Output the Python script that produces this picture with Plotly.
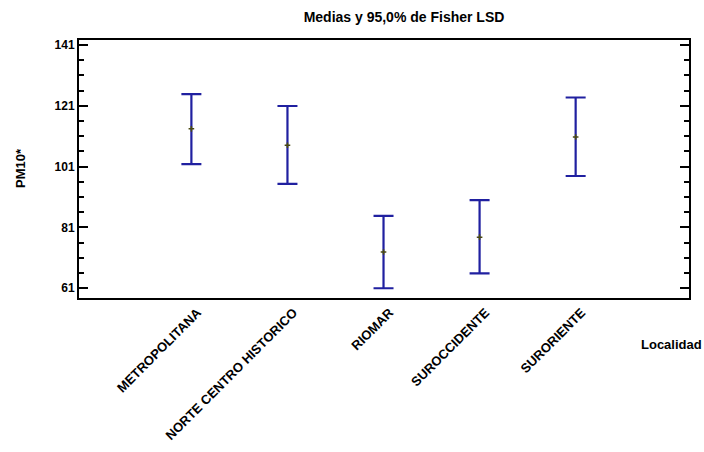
import plotly.graph_objects as go

categories = ["METROPOLITANA", "NORTE CENTRO HISTORICO", "RIOMAR", "SUROCCIDENTE", "SURORIENTE"]
means = [113.4, 108.0, 72.9, 77.8, 110.7]
lower = [101.8, 95.3, 61.0, 65.9, 97.9]
upper = [124.8, 120.9, 84.8, 90.0, 123.7]
y_ticks = [61, 81, 101, 121, 141]

x_idx = list(range(len(categories)))
err_plus = [u - m for u, m in zip(upper, means)]
err_minus = [m - l for m, l in zip(means, lower)]

L, R, T, B = 79, 15, 40, 154
W, H = 704, 452
pw, ph = W - L - R, H - T - B

fig = go.Figure()
fig.add_trace(go.Scatter(
    x=x_idx, y=means, mode="markers",
    marker=dict(symbol="cross-thin", size=4, color="#4a4a10",
                line=dict(width=1.5, color="#4a4a10")),
    error_y=dict(type="data", symmetric=False, array=err_plus, arrayminus=err_minus,
                 color="#2020a0", thickness=2.2, width=10),
    showlegend=False,
))
# invisible trace to activate right-side axis for mirrored inside ticks
fig.add_trace(go.Scatter(x=[x_idx[0]], y=[means[0]], yaxis="y2", mode="markers",
                         marker=dict(opacity=0), showlegend=False, hoverinfo="skip"))

font_family = "Liberation Sans, Arial, sans-serif"
yr = [57.8, 142.6]
minor = dict(ticks="inside", tick0=61, dtick=5, ticklen=5, tickwidth=1.5,
             tickcolor="black", showgrid=False)
fig.update_layout(
    width=W, height=H,
    margin=dict(l=L, r=R, t=T, b=B, autoexpand=False),
    paper_bgcolor="white", plot_bgcolor="white",
    title=dict(text="<b>Medias y 95,0% de Fisher LSD</b>", x=404 / W, xanchor="center",
               y=1 - 17 / H, yanchor="middle", font=dict(family=font_family, size=14, color="black")),
    font=dict(family=font_family, color="black"),
    xaxis=dict(range=[-1.17, 5.18], tickmode="array", tickvals=x_idx,
               ticktext=["<b>%s</b>" % c for c in categories],
               tickangle=-45, tickfont=dict(size=13, family=font_family),
               showgrid=False, zeroline=False, showline=True, linecolor="black", linewidth=2,
               mirror=True, ticks="", automargin=False, ticklabelshift=6),
    yaxis=dict(range=yr, automargin=False, showline=True, mirror=True, linewidth=2,
               linecolor="black", ticks="inside", ticklen=9, tickwidth=1.5, tickcolor="black",
               tickvals=y_ticks, ticktext=["<b>%d</b>" % v for v in y_ticks],
               tickmode="array", tickfont=dict(size=12, family=font_family),
               showgrid=False, zeroline=False, minor=minor),
    yaxis2=dict(overlaying="y", side="right", range=yr, tickmode="array", tickvals=y_ticks,
                showticklabels=False, showgrid=False, zeroline=False, showline=False,
                ticks="inside", ticklen=9, tickwidth=1.5, tickcolor="black", automargin=False,
                minor=minor),
)

fig.add_annotation(text="<b>PM10*</b>", x=(20 - L) / pw, y=(H - B - 168) / ph, xref="paper", yref="paper",
                   xanchor="center", yanchor="middle", textangle=-90, showarrow=False,
                   font=dict(size=13, family=font_family))
fig.add_annotation(text="<b>Localidad</b>", x=(671 - L) / pw, y=(H - B - 345) / ph, xref="paper", yref="paper",
                   xanchor="center", yanchor="middle", showarrow=False,
                   font=dict(size=13, family=font_family))

fig.write_html("out.html", config={"displayModeBar": False},
               post_script="document.body.style.margin='0';document.body.style.overflow='hidden';")
